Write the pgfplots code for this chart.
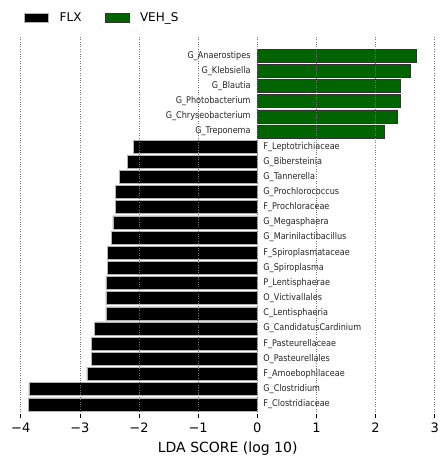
\documentclass[border=0pt]{standalone}
\usepackage{fontspec}
\setmainfont{DejaVu Sans}
\newfontfamily\lblfont[FakeStretch=0.88]{DejaVu Sans}
\usepackage{pgfplots}
\pgfplotsset{compat=1.18}
\definecolor{vehgreen}{RGB}{0,100,0}
\begin{document}
\begin{tikzpicture}
\begin{axis}[
  scale only axis, width=414pt, height=377pt,
  at={(0,0)}, anchor=south west,
  xmin=-4, xmax=3, ymin=-0.64, ymax=24.23,
  xtick={-4,-3,-2,-1,0,1,2,3},
  xticklabels={−4,−3,−2,−1,0,1,2,3},
  ytick=\empty,
  axis line style={draw=none},
  xtick pos=bottom,
  tick align=outside, major tick length=4pt,
  tick style={black, line width=0.6pt},
  xmajorgrids, axis on top,
  grid style={dotted, black!55, line width=0.5pt},
  xticklabel style={font=\fontsize{13}{14}\selectfont, yshift=-1pt},
  xlabel={LDA SCORE (log 10)},
  xlabel style={font=\fontsize{14}{16}\selectfont, yshift=-3pt},
  bar width=0.86, bar shift=0pt,
  legend columns=2,
  legend style={draw=none, fill=none, at={(0.008,1.05)}, anchor=west,
    font=\fontsize{12}{13}\selectfont, inner sep=0pt,
    /tikz/every odd column/.append style={column sep=9pt},
    /tikz/every even column/.append style={column sep=21pt}},
  legend image code/.code={\draw[#1] (0pt,-4.5pt) rectangle (24pt,4.5pt);},
]
% FLX-enriched taxa (negative LDA)
\addplot[xbar, fill=black, draw=gray!60, line width=0.5pt] coordinates {
  (-2.09,17) (-2.19,16) (-2.33,15) (-2.40,14) (-2.40,13) (-2.44,12)
  (-2.47,11) (-2.53,10) (-2.53,9) (-2.56,8) (-2.56,7) (-2.56,6)
  (-2.75,5) (-2.80,4) (-2.80,3) (-2.88,2) (-3.86,1) (-3.87,0)
};
\addlegendentry{FLX}
% VEH_S-enriched taxa (positive LDA)
\addplot[xbar, fill=vehgreen, draw=black!80, line width=0.5pt] coordinates {
  (2.68,23) (2.58,22) (2.42,21) (2.42,20) (2.36,19) (2.15,18)
};
\addlegendentry{VEH\_S}
% taxon names, set against the zero line
\addplot[forget plot, draw=none, mark=none, nodes near coords,
  point meta=explicit symbolic,
  nodes near coords style={anchor=east, inner sep=0pt, xshift=-6.5pt,
    font=\lblfont\fontsize{9.2}{10}\selectfont, text=black!85}] coordinates {
  (0,23) [G\_Anaerostipes]
  (0,22) [G\_Klebsiella]
  (0,21) [G\_Blautia]
  (0,20) [G\_Photobacterium]
  (0,19) [G\_Chryseobacterium]
  (0,18) [G\_Treponema]
};
\addplot[forget plot, draw=none, mark=none, nodes near coords,
  point meta=explicit symbolic,
  nodes near coords style={anchor=west, inner sep=0pt, xshift=6pt,
    font=\lblfont\fontsize{9.2}{10}\selectfont, text=black!85}] coordinates {
  (0,17) [F\_Leptotrichiaceae]
  (0,16) [G\_Bibersteinia]
  (0,15) [G\_Tannerella]
  (0,14) [G\_Prochlorococcus]
  (0,13) [F\_Prochloraceae]
  (0,12) [G\_Megasphaera]
  (0,11) [G\_Marinilactibacillus]
  (0,10) [F\_Spiroplasmataceae]
  (0,9) [G\_Spiroplasma]
  (0,8) [P\_Lentisphaerae]
  (0,7) [O\_Victivallales]
  (0,6) [C\_Lentisphaeria]
  (0,5) [G\_CandidatusCardinium]
  (0,4) [F\_Pasteurellaceae]
  (0,3) [O\_Pasteurellales]
  (0,2) [F\_Amoebophilaceae]
  (0,1) [G\_Clostridium]
  (0,0) [F\_Clostridiaceae]
};
\end{axis}
\pgfresetboundingbox
\path[use as bounding box] (-20.7pt,-43pt) rectangle (418.3pt,414pt);
\end{tikzpicture}
\end{document}
